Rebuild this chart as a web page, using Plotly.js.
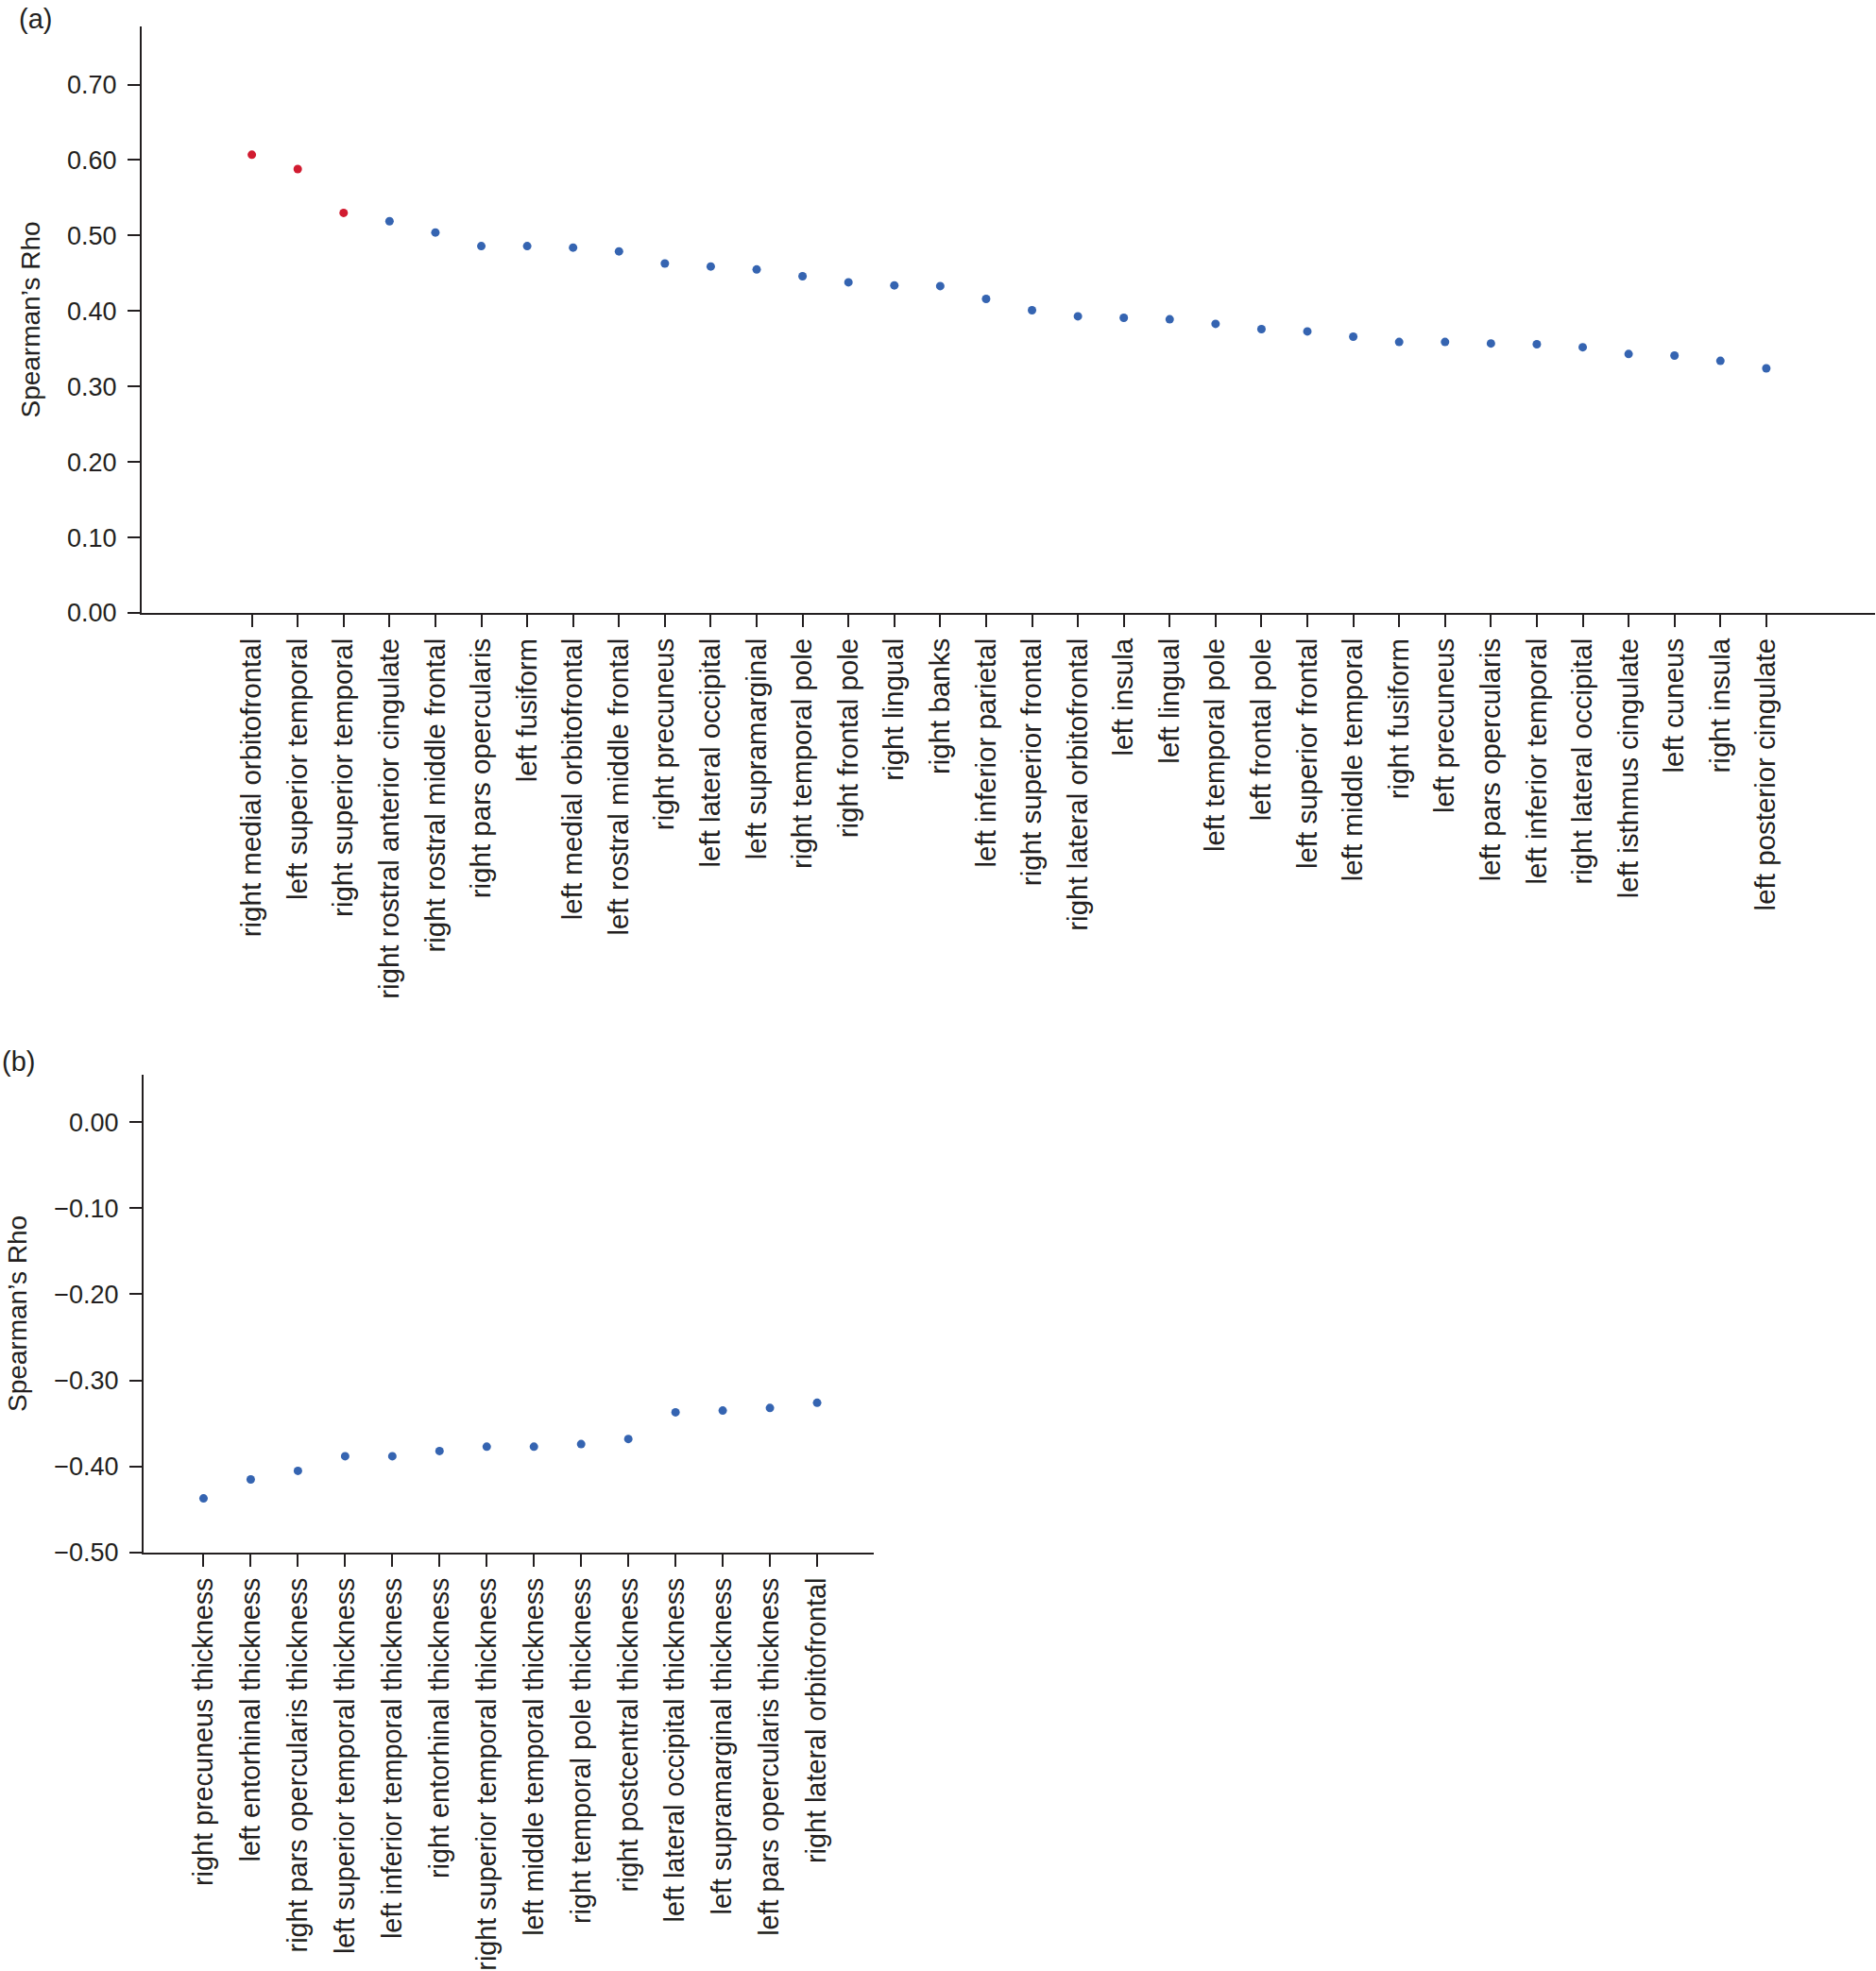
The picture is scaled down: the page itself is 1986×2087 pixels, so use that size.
<!DOCTYPE html>
<html>
<head>
<meta charset="utf-8">
<script src="https://cdn.plot.ly/plotly-3.0.1.min.js"></script>
<style>html,body{margin:0;padding:0;background:#fff;}#chart{width:1986px;height:2087px;}</style>
</head>
<body>
<div id="chart"></div>
<script>
// Panel (a): positive correlations
const regionsA = [
  "right medial orbitofrontal","left superior temporal","right superior temporal",
  "right rostral anterior cingulate","right rostral middle frontal","right pars opercularis",
  "left fusiform","left medial orbitofrontal","left rostral middle frontal","right precuneus",
  "left lateral occipital","left supramarginal","right temporal pole","right frontal pole",
  "right lingual","right banks","left inferior parietal","right superior frontal",
  "right lateral orbitofrontal","left insula","left lingual","left temporal pole",
  "left frontal pole","left superior frontal","left middle temporal","right fusiform",
  "left precuneus","left pars opercularis","left inferior temporal","right lateral occipital",
  "left isthmus cingulate","left cuneus","right insula","left posterior cingulate"
];
const rhoA = [
  0.607, 0.588, 0.530, 0.519, 0.504, 0.486, 0.486, 0.484, 0.479, 0.463,
  0.459, 0.455, 0.446, 0.438, 0.434, 0.433, 0.416, 0.401, 0.393, 0.391,
  0.389, 0.383, 0.376, 0.373, 0.366, 0.359, 0.359, 0.357, 0.356, 0.352,
  0.343, 0.341, 0.334, 0.324
];
// 1 = highlighted (red) in the figure
const highlightA = [1,1,1,0,0,0,0,0,0,0,0,0,0,0,0,0,0,0,0,0,0,0,0,0,0,0,0,0,0,0,0,0,0,0];

// Panel (b): negative correlations
const regionsB = [
  "right precuneus thickness","left entorhinal thickness","right pars opercularis thickness",
  "left superior temporal thickness","left inferior temporal thickness","right entorhinal thickness",
  "right superior temporal thickness","left middle temporal thickness","right temporal pole thickness",
  "right postcentral thickness","left lateral occipital thickness","left supramarginal thickness",
  "left pars opercularis thickness","right lateral orbitofrontal"
];
const rhoB = [
  -0.437, -0.415, -0.405, -0.388, -0.388, -0.382, -0.377,
  -0.377, -0.374, -0.368, -0.337, -0.335, -0.332, -0.326
];
const yTicksA = [0, 0.1, 0.2, 0.3, 0.4, 0.5, 0.6, 0.7];
const yTicksB = [-0.5, -0.4, -0.3, -0.2, -0.1, 0];

const RED = "#d11b30", BLUE = "#3564b1", INK = "#231f20";
const FONT = "Liberation Sans, Arial, sans-serif";

const idxA = regionsA.map((_, i) => i);
const idxB = regionsB.map((_, i) => i);

const traces = [
  {
    x: idxA, y: rhoA, xaxis: "x", yaxis: "y", type: "scatter", mode: "markers",
    marker: {size: 9, color: highlightA.map(h => h ? RED : BLUE)},
    hoverinfo: "skip", showlegend: false
  },
  {
    x: idxB, y: rhoB, xaxis: "x2", yaxis: "y2", type: "scatter", mode: "markers",
    marker: {size: 9, color: BLUE},
    hoverinfo: "skip", showlegend: false
  }
];

const W = 1986, H = 2087;
const axCommon = {
  showline: true, linecolor: INK, linewidth: 2, ticks: "outside", ticklen: 13,
  tickwidth: 2, tickcolor: INK, showgrid: false, zeroline: false,
  tickfont: {family: FONT, size: 27, color: INK}
};
const titleFont = {family: FONT, size: 28, color: INK};

const layout = {
  width: W, height: H,
  margin: {l: 0, r: 0, t: 0, b: 0},
  paper_bgcolor: "#fff", plot_bgcolor: "#fff",
  font: {family: FONT, color: INK},
  xaxis: Object.assign({}, axCommon, {
    domain: [150 / W, 1985 / W], anchor: "y",
    range: [-2.4, 35.37], tickmode: "array", tickvals: idxA, ticktext: regionsA,
    tickangle: -90, tickfont: {family: FONT, size: 29.5, color: INK}
  }),
  yaxis: Object.assign({}, axCommon, {
    domain: [1 - 649 / H, 1 - 28 / H], anchor: "x",
    range: [0, 0.777], tickmode: "array", tickvals: yTicksA, tickformat: ".2f",
    ticklabelstandoff: 6,
    title: {text: "Spearman’s Rho", font: titleFont, standoff: 20}
  }),
  xaxis2: Object.assign({}, axCommon, {
    domain: [152 / W, 925 / W], anchor: "y2",
    range: [-1.27, 14.2], tickmode: "array", tickvals: idxB, ticktext: regionsB,
    tickangle: -90, tickfont: {family: FONT, size: 28.8, color: INK}
  }),
  yaxis2: Object.assign({}, axCommon, {
    domain: [1 - 1644 / H, 1 - 1138 / H], anchor: "x2",
    range: [-0.5, 0.055], tickmode: "array", tickvals: yTicksB, tickformat: ".2f",
    ticklabelstandoff: 6,
    title: {text: "Spearman’s Rho", font: titleFont, standoff: 20}
  }),
  annotations: [
    {text: "(a)", xref: "paper", yref: "paper", x: 18 / W, y: 1 - 2 / H,
     xanchor: "left", yanchor: "top", showarrow: false,
     font: {family: FONT, size: 29, color: INK}},
    {text: "(b)", xref: "paper", yref: "paper", x: 0, y: 1 - 1106 / H,
     xanchor: "left", yanchor: "top", showarrow: false,
     font: {family: FONT, size: 29, color: INK}}
  ]
};

Plotly.newPlot("chart", traces, layout, {staticPlot: true, displayModeBar: false});
</script>
</body>
</html>
